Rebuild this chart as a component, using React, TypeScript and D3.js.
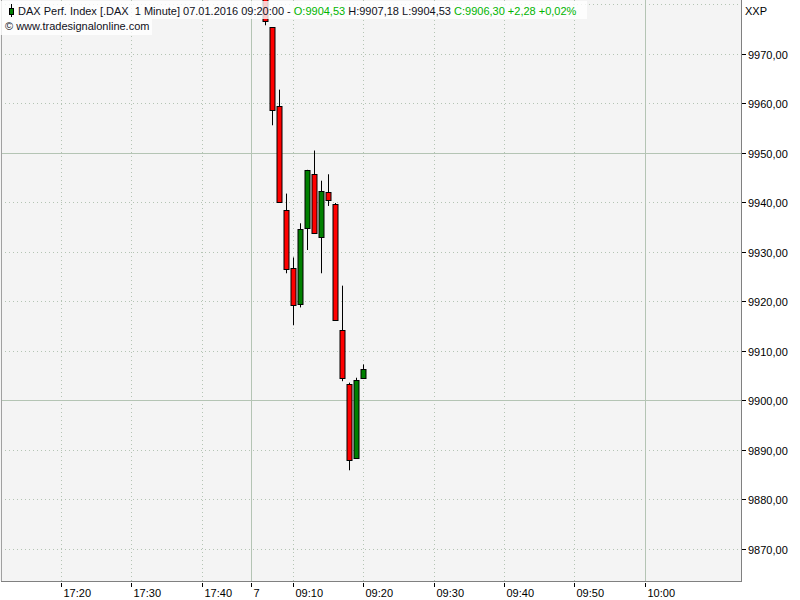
import * as d3 from "d3"

// bar slots (minutes on the compressed time axis) and OHLC values
const slots = [29, 30, 31, 32, 33, 34, 35, 36, 37, 38, 39, 40, 41, 42, 43]
const opens = [9985.0, 9975.3, 9959.3, 9938.3, 9926.6, 9919.4, 9934.7, 9945.6, 9932.9, 9942.1, 9939.5, 9914.2, 9903.3, 9888.3, 9904.53]
const highs = [9987.0, 9975.3, 9962.7, 9941.7, 9928.8, 9935.7, 9946.5, 9950.4, 9944.3, 9945.6, 9939.8, 9923.1, 9903.5, 9904.5, 9907.18]
const lows = [9975.7, 9955.5, 9940.0, 9925.6, 9915.1, 9918.7, 9930.3, 9933.6, 9925.6, 9939.2, 9916.1, 9903.8, 9885.8, 9888.1, 9904.53]
const closes = [9976.5, 9958.5, 9940.1, 9926.4, 9919.2, 9934.6, 9946.4, 9933.7, 9942.3, 9940.4, 9916.2, 9904.5, 9887.9, 9904.1, 9906.3]

const timeTickSlots = [0, 10, 20, 27, 33, 43, 53, 63, 73, 83]
const timeTickLabels = ["17:20", "17:30", "17:40", "7", "09:10", "09:20", "09:30", "09:40", "09:50", "10:00"]
const solidTimeSlots = [27, 83]

const priceTicks = [9870, 9880, 9890, 9900, 9910, 9920, 9930, 9940, 9950, 9960, 9970, 9980]
const solidPrices = [9900, 9950]

const plotRight = 741
const plotBottom = 581
const font = "'Liberation Sans', Arial, sans-serif"
const gridColor = "#b4c4b4"
const green = "#00b400"

const fmt = d3
  .formatLocale({ decimal: ",", thousands: ".", grouping: [3], currency: ["", "€"] })
  .format(".2f")

export default function App() {
  const x = d3.scaleLinear().domain([0, 83]).range([61, 644.5])
  const y = d3.scaleLinear().domain([9870, 9980]).range([548.5, 4])

  const bars = slots.map((s, i) => ({
    s,
    o: opens[i],
    h: highs[i],
    l: lows[i],
    c: closes[i],
  }))

  const px = (v: number) => Math.round(v) + 0.5

  return (
    <svg
      width={800}
      height={600}
      style={{ position: "absolute", left: 0, top: 0, fontFamily: font }}
    >
      <rect x={0} y={0} width={800} height={600} fill="#ffffff" />
      <rect x={0} y={0} width={plotRight} height={plotBottom} fill="#f4f4f4" />

      {/* horizontal grid */}
      {priceTicks.map((p) => (
        <line
          key={"h" + p}
          x1={1}
          x2={plotRight}
          y1={px(y(p))}
          y2={px(y(p))}
          stroke={gridColor}
          strokeDasharray={solidPrices.includes(p) ? undefined : "1,3"}
        />
      ))}
      {/* vertical grid */}
      {timeTickSlots.map((s) => (
        <line
          key={"v" + s}
          x1={px(x(s))}
          x2={px(x(s))}
          y1={0}
          y2={plotBottom}
          stroke={gridColor}
          strokeDasharray={solidTimeSlots.includes(s) ? undefined : "1,3"}
        />
      ))}

      {/* candles */}
      {bars.map((b) => {
        const cx = px(x(b.s))
        const top = y(Math.max(b.o, b.c))
        const bot = y(Math.min(b.o, b.c))
        return (
          <g key={b.s}>
            <line x1={cx} x2={cx} y1={y(b.h)} y2={y(b.l)} stroke="#000" />
            <rect
              x={cx - 2.5}
              y={Math.round(top) + 0.5}
              width={5}
              height={Math.max(1, Math.round(bot) - Math.round(top))}
              fill={b.c >= b.o ? "#008000" : "#ff0000"}
              stroke="#000"
            />
          </g>
        )
      })}

      {/* frame */}
      <line x1={1.5} x2={1.5} y1={0} y2={plotBottom} stroke="#a0a0a0" />
      <line x1={plotRight + 0.5} x2={plotRight + 0.5} y1={0} y2={plotBottom + 1} stroke="#808080" />
      <line x1={1} x2={plotRight + 1} y1={plotBottom + 0.5} y2={plotBottom + 0.5} stroke="#808080" />

      {/* right axis */}
      {priceTicks
        .filter((p) => y(p) > 20)
        .map((p) => (
          <g key={"ry" + p} transform={`translate(0,${px(y(p))})`}>
            <line x1={plotRight + 1} x2={plotRight + 5} y1={0} y2={0} stroke="#000" />
            <text x={plotRight + 7} y={4} fontSize={11} fill="#000">
              {fmt(p)}
            </text>
          </g>
        ))}
      <text x={745} y={15} fontSize={11} fill="#000">
        XXP
      </text>

      {/* bottom axis */}
      {timeTickSlots.map((s, i) => (
        <g key={"bx" + s} transform={`translate(${px(x(s))},0)`}>
          <line x1={0} x2={0} y1={plotBottom + 2} y2={plotBottom + 6} stroke="#000" />
          <text x={2} y={597} fontSize={11} fill="#000">
            {timeTickLabels[i]}
          </text>
        </g>
      ))}

      {/* header */}
      <rect x={0} y={1} width={587} height={18} fill="#ffffff" fillOpacity={0.8} />
      <rect x={0} y={19} width={152} height={16} fill="#ffffff" fillOpacity={0.8} />
      <line x1={11.5} x2={11.5} y1={4} y2={17} stroke="#000" />
      <rect x={9.5} y={8.5} width={4} height={6} fill="#008000" stroke="#000" />
      <text x={18} y={15} fontSize={11} fill="#101020" style={{ whiteSpace: "pre" }}>
        <tspan>{"DAX Perf. Index [.DAX  1 Minute] 07.01.2016 09:20:00 - "}</tspan>
        <tspan fill={green}>O:9904,53</tspan>
        <tspan>{" H:9907,18 L:9904,53 "}</tspan>
        <tspan fill={green}>C:9906,30 +2,28 +0,02%</tspan>
      </text>
      <text x={5} y={30} fontSize={11} fill="#101020">
        © www.tradesignalonline.com
      </text>
    </svg>
  )
}
